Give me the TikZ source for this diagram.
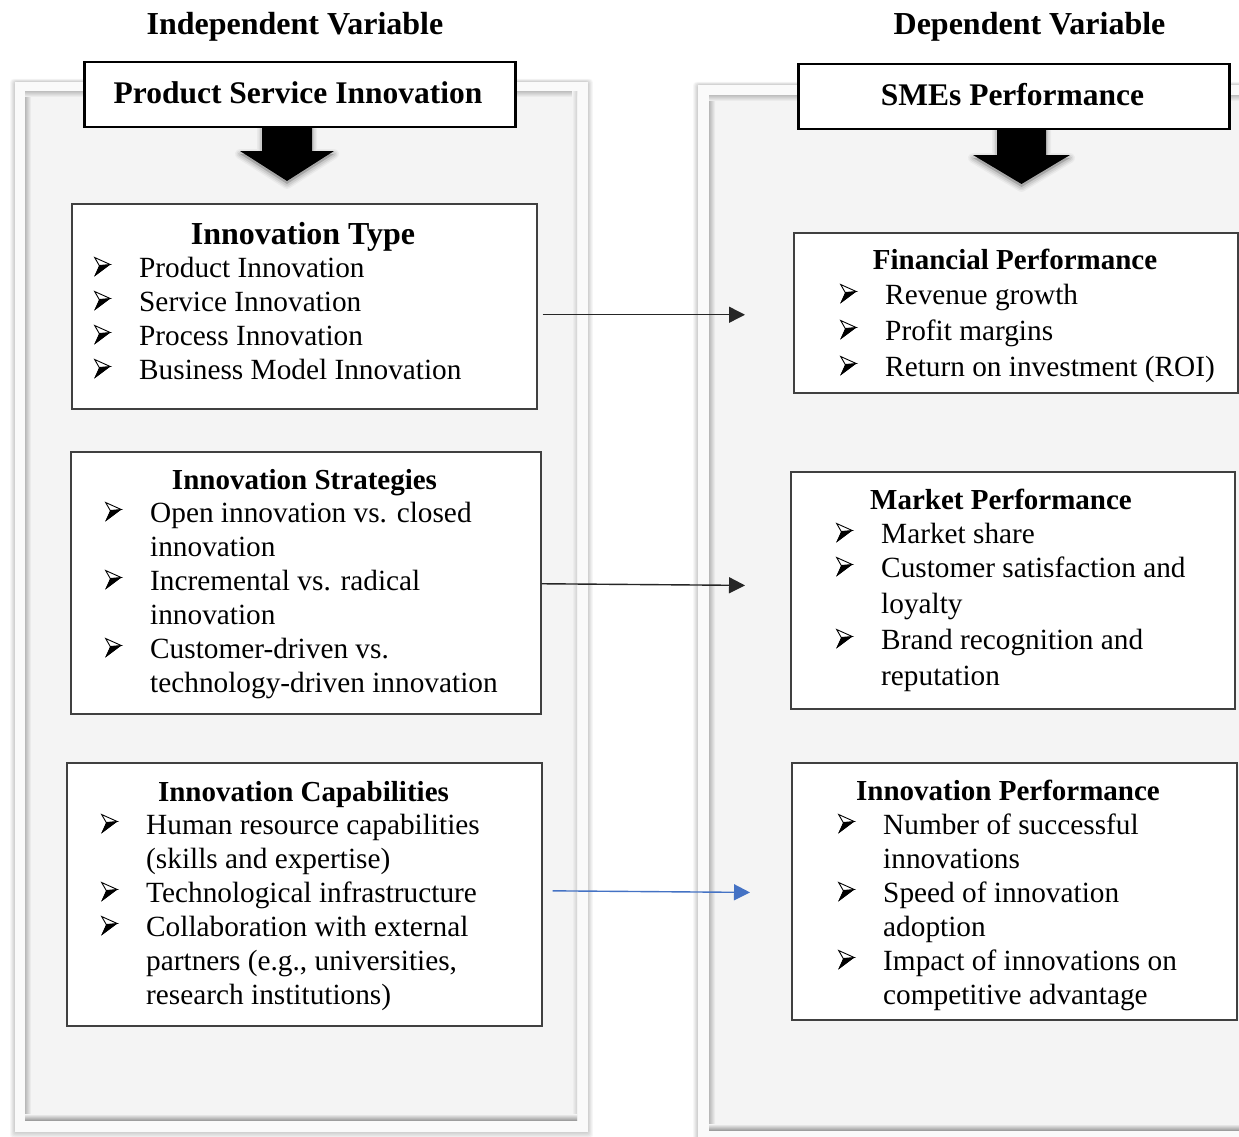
\documentclass[tikz,border=0pt]{standalone}
\usepackage{fontspec}
\setmainfont{Liberation Serif}
\usepackage{array}
\usetikzlibrary{arrows.meta}
\definecolor{arrowblue}{HTML}{4472C4}
\newcommand{\bul}{\hspace*{1pt}\tikz[x=1pt,y=1pt,baseline=0pt]{\fill[black] (0,0.5) -- (16,12.5) -- (5,11.5) -- cycle; \draw[black,line width=0.9pt,line join=miter,fill=white] (0.4,19.5) -- (16,12.5) -- (5,11.5) -- cycle; \fill[black] (0,0.5) -- (16,12.5) -- (5,11.5) -- cycle;}}
\newcommand{\blist}[1]{\begin{tabular}[t]{@{}p{46pt}@{}l@{}}#1\end{tabular}}
\newcommand{\mypanel}[8]{%
  \foreach \s in {1,...,6}{\fill[black,opacity=0.03,rounded corners=3pt] ({#1-\s*0.8},{#2-\s*0.5}) rectangle ({#3+\s*0.8},{#4+\s*1.1});}
  \fill[white!98!black] (#1,#2) rectangle (#3,#4);
  \fill[white!95.5!black] (#5,#6) rectangle (#7,#8);
  \shade[left color=black!28,right color=white!95.5!black] (#5,#6) rectangle ({#5+6},#8);
  \shade[top color=black!22,bottom color=white!95.5!black] (#5,#6) rectangle (#7,{#6+5});
  \shade[left color=white!95.5!black,right color=black!18] ({#7-5},#6) rectangle (#7,#8);
  \shade[top color=white!95.5!black,bottom color=black!38] (#5,{#8-6}) rectangle (#7,#8);
}
\newcommand{\barrow}[6]{% cx sw hw y0 y1 y2
  \foreach \w/\o in {10/0.04,7/0.06,4/0.08}{
    \filldraw[black,opacity=\o,line width=\w pt,line join=round] ({#1-#2},{#4+3}) -- ({#1+#2},{#4+3}) -- ({#1+#2},{#5+3}) -- ({#1+#3},{#5+3}) -- (#1,{#6+3}) -- ({#1-#3},{#5+3}) -- ({#1-#2},{#5+3}) -- cycle;}
  \fill[black] ({#1-#2},#4) -- ({#1+#2},#4) -- ({#1+#2},#5) -- ({#1+#3},#5) -- (#1,#6) -- ({#1-#3},#5) -- ({#1-#2},#5) -- cycle;
}
\begin{document}
\begin{tikzpicture}[x=1pt,y=-1pt,
  box/.style={draw=black!75,line width=1.5pt,fill=white,inner sep=0pt,anchor=north west},
  titlebox/.style={draw=black,line width=2.5pt,fill=white,inner sep=0pt,anchor=north west},
  hd/.style={font=\bfseries\fontsize{29}{34}\selectfont,inner sep=0pt,anchor=base},
  bighd/.style={font=\bfseries\fontsize{32}{36}\selectfont,inner sep=0pt,anchor=base},
  body/.style={font=\fontsize{29.3}{34}\selectfont,inner sep=0pt,anchor=base west},
  conn/.style={-{Triangle[length=16pt,width=16pt]},line width=1.4pt,draw=black!85},
  bconn/.style={-{Triangle[length=16pt,width=16pt]},line width=1.4pt,draw=arrowblue}]
\useasboundingbox (0,0) rectangle (1239,1137);
\fill[white] (0,0) rectangle (1239,1137);

% panels
\mypanel{15}{82}{588}{1132}{25}{92}{577}{1120}
\mypanel{698}{85}{1252}{1145}{709}{96}{1246}{1130}

% column headings
\node[bighd] (indep) at (295,35) {Independent Variable};
\node[bighd] (dep) at (1029.5,35) {Dependent Variable};

% block arrows
\barrow{287}{25}{47}{126}{151}{181}
\barrow{1021.5}{24.5}{48.5}{128}{155}{184}

% title boxes
\node[titlebox,minimum width=431pt,minimum height=65pt] (psi) at (83,61) {};
\node[bighd,font=\bfseries\fontsize{31.5}{36}\selectfont] (psit) at (298,104) {Product Service Innovation};
\node[titlebox,minimum width=431pt,minimum height=65pt] (sme) at (797,63) {};
\node[bighd,font=\bfseries\fontsize{31.5}{36}\selectfont] (smet) at (1012.5,106) {SMEs Performance};

% left boxes
\node[box,minimum width=465pt,minimum height=205pt] (b1) at (71,203) {};
\node[bighd] (b1h) at (303,244) {Innovation Type};
\node[body] (b1l) at (93,277) {\blist{\bul & Product Innovation\\ \bul & Service Innovation\\ \bul & Process Innovation\\ \bul & Business Model Innovation}};

\node[box,minimum width=470pt,minimum height=262pt] (b2) at (70,451) {};
\node[hd] (b2h) at (304.5,489) {Innovation Strategies};
\node[body] (b2l) at (104,522) {\blist{\bul & Open innovation vs. closed\\ & innovation\\ \bul & Incremental vs. radical\\ & innovation\\ \bul & Customer-driven vs.\\ & technology-driven innovation}};

\node[box,minimum width=475pt,minimum height=263pt] (b3) at (66,762) {};
\node[hd] (b3h) at (303.5,801) {Innovation Capabilities};
\node[body] (b3l) at (100,834) {\blist{\bul & Human resource capabilities\\ & (skills and expertise)\\ \bul & Technological infrastructure\\ \bul & Collaboration with external\\ & partners (e.g., universities,\\ & research institutions)}};

% right boxes
\node[box,minimum width=444pt,minimum height=160pt] (r1) at (793,232) {};
\node[hd] (r1h) at (1015,269) {Financial Performance};
\node[body,font=\fontsize{29.3}{36}\selectfont] (r1l) at (839,304) {\blist{\bul & Revenue growth\\ \bul & Profit margins\\ \bul & Return on investment (ROI)}};

\node[box,minimum width=444pt,minimum height=237pt] (r2) at (790,471) {};
\node[hd] (r2h) at (1001,509) {Market Performance};
\node[body,font=\fontsize{29.3}{36}\selectfont] (r2l) at (835,543) {\blist{\bul & Market share\\[-2pt] \bul & Customer satisfaction and\\ & loyalty\\ \bul & Brand recognition and\\ & reputation}};

\node[box,minimum width=445pt,minimum height=257pt] (r3) at (791,762) {};
\node[hd] (r3h) at (1008,800) {Innovation Performance};
\node[body] (r3l) at (837,834) {\blist{\bul & Number of successful\\ & innovations\\ \bul & Speed of innovation\\ & adoption\\ \bul & Impact of innovations on\\ & competitive advantage}};

% connectors
\draw[conn,shorten <=5pt,shorten >=48pt] ([yshift=-8.5pt]b1.east) -- ([yshift=-2pt]r1.west);
\draw[conn,shorten >=45pt] ([yshift=-1pt]b2.east) -- ([yshift=4.5pt]r2.west);
\draw[bconn,shorten <=10pt,shorten >=41pt] ([yshift=3.5pt]b3.east) -- ([yshift=-1.5pt]r3.west);
\end{tikzpicture}
\end{document}
